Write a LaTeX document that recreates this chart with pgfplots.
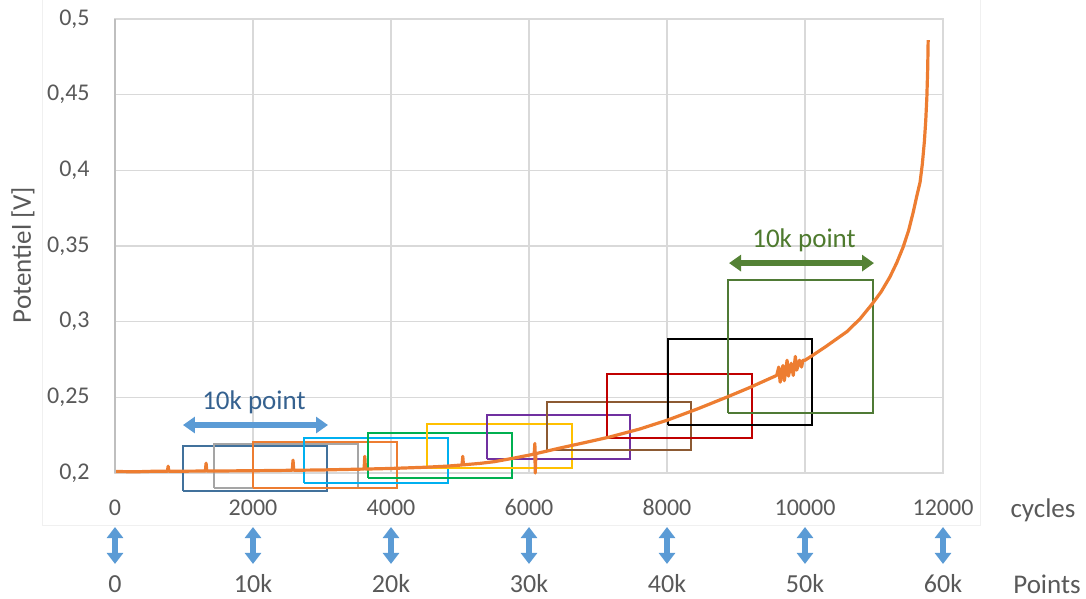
\documentclass[border=0pt]{standalone}
\usepackage{pgfplots}
\pgfplotsset{compat=1.18}
\usepackage{fontspec}
\setmainfont{Carlito}
\usetikzlibrary{arrows.meta}
\definecolor{gridc}{HTML}{D9D9D9}
\definecolor{axisc}{HTML}{BFBFBF}
\definecolor{txt}{HTML}{595959}
\definecolor{curve}{HTML}{ED7D31}
\definecolor{arrblue}{HTML}{5B9BD5}
\definecolor{lblblue}{HTML}{35618F}
\definecolor{arrgreen}{HTML}{548235}
\definecolor{lblgreen}{HTML}{4E7A2E}
\definecolor{rblue}{HTML}{41719C}
\definecolor{rgray}{HTML}{A5A5A5}
\definecolor{rorange}{HTML}{ED7D31}
\definecolor{rcyan}{HTML}{00B0F0}
\definecolor{rgreen}{HTML}{00B050}
\definecolor{ryellow}{HTML}{FFC000}
\definecolor{rpurple}{HTML}{7030A0}
\definecolor{rbrown}{HTML}{8C5A33}
\definecolor{rred}{HTML}{C00000}
\definecolor{rblack}{HTML}{000000}
\definecolor{rdgreen}{HTML}{4F7A35}
\definecolor{framec}{HTML}{F0F0F0}

\pgfplotstableread{
x y
0 0.2010
300 0.2008
600 0.2012
760 0.2011
770 0.2045
780 0.2011
1000 0.2012
1310 0.2013
1320 0.2065
1330 0.2013
1700 0.2014
2000 0.2015
2570 0.2018
2580 0.2085
2590 0.2018
3000 0.2020
3610 0.2026
3620 0.2110
3630 0.2026
4000 0.2030
4500 0.2038
4800 0.2045
5030 0.2053
5040 0.2110
5050 0.2054
5300 0.2064
5500 0.2075
5800 0.2100
6000 0.2118
6075 0.2125
6085 0.2195
6090 0.2000
6100 0.2128
6450 0.2165
6800 0.2200
7170 0.2238
7600 0.2290
8010 0.2350
8450 0.2425
8870 0.2502
9200 0.2565
9590 0.2645
9620 0.2700
9640 0.2600
9680 0.2710
9700 0.2610
9740 0.2745
9760 0.2640
9800 0.2725
9830 0.2645
9860 0.2770
9880 0.2680
9920 0.2745
9950 0.2700
9970 0.2745
10000 0.2745
10120 0.2780
10300 0.2835
10610 0.2935
10800 0.3020
10970 0.3115
11100 0.3195
11230 0.3295
11330 0.3390
11420 0.3490
11500 0.3600
11565 0.3717
11620 0.3830
11667 0.3920
11700 0.4040
11730 0.4190
11750 0.4330
11766 0.4484
11778 0.4670
11785 0.4860
}\curvedata

\tikzset{varr/.style={arrblue, line width=3pt, {Triangle[width=8pt,length=5.5pt]}-{Triangle[width=8pt,length=5.5pt]}},
  plab/.style={text=txt, font=\fontsize{13}{15}\selectfont, inner sep=0pt}}

\begin{document}
\begin{tikzpicture}
\useasboundingbox (0pt,0pt) rectangle (543pt,299.5pt);
\draw[framec, line width=0.5pt] (21pt,299.5pt) -- (21pt,36.5pt) -- (490pt,36.5pt) -- (490pt,299.5pt);
\begin{axis}[
  at={(57.5pt,63pt)}, anchor=south west,
  scale only axis, width=414pt, height=227pt,
  xmin=0, xmax=12000, ymin=0.2, ymax=0.5,
  clip=false,
  scaled x ticks=false,
  axis line style={draw=gridc, line width=0.75pt},
  grid=major,
  major grid style={draw=gridc, line width=0.75pt},
  major tick length=0pt,
  xtick={0,2000,4000,6000,8000,10000,12000},
  xticklabels={0,2000,4000,6000,8000,10000,12000},
  ytick={0.2,0.25,0.3,0.35,0.4,0.45,0.5},
  yticklabels={{0,2},{0,25},{0,3},{0,35},{0,4},{0,45},{0,5}},
  tick label style={text=txt, font=\fontsize{12}{14}\selectfont, inner sep=0pt},
  xticklabel style={anchor=center, yshift=-17.25pt},
  yticklabel style={anchor=east, xshift=-12.5pt},
  ylabel={Potentiel [V]},
  every axis y label/.style={at={(rel axis cs:0,0.5)}, xshift=-46pt, yshift=-4.5pt, rotate=90, anchor=center, text=txt, font=\fontsize{13.5}{16}\selectfont},
]
% rectangles
\addplot[forget plot, draw=rblue, line width=1pt] coordinates {(985,0.1881) (3072,0.1881) (3072,0.2178) (985,0.2178) (985,0.1881)};
\addplot[forget plot, draw=rgray, line width=1pt] coordinates {(1435,0.1901) (3521,0.1901) (3521,0.2192) (1435,0.2192) (1435,0.1901)};
\addplot[forget plot, draw=rorange, line width=1pt] coordinates {(2000,0.1901) (4086,0.1901) (4086,0.2205) (2000,0.2205) (2000,0.1901)};
\addplot[forget plot, draw=rcyan, line width=1pt] coordinates {(2739,0.1934) (4826,0.1934) (4826,0.2231) (2739,0.2231) (2739,0.1934)};
\addplot[forget plot, draw=rgreen, line width=1pt] coordinates {(3666,0.1967) (5753,0.1967) (5753,0.2264) (3666,0.2264) (3666,0.1967)};
\addplot[forget plot, draw=ryellow, line width=1pt] coordinates {(4521,0.2033) (6622,0.2033) (6622,0.2324) (4521,0.2324) (4521,0.2033)};
\addplot[forget plot, draw=rpurple, line width=1pt] coordinates {(5390,0.2092) (7462,0.2092) (7462,0.2383) (5390,0.2383) (5390,0.2092)};
\addplot[forget plot, draw=rbrown, line width=1pt] coordinates {(6260,0.2152) (8346,0.2152) (8346,0.2469) (6260,0.2469) (6260,0.2152)};
\addplot[forget plot, draw=rred, line width=1pt] coordinates {(7129,0.2231) (9230,0.2231) (9230,0.2654) (7129,0.2654) (7129,0.2231)};
\addplot[forget plot, draw=rblack, line width=1pt] coordinates {(8013,0.2317) (10099,0.2317) (10099,0.2885) (8013,0.2885) (8013,0.2317)};
\addplot[forget plot, draw=rdgreen, line width=1pt] coordinates {(8882,0.2396) (10983,0.2396) (10983,0.3275) (8882,0.3275) (8882,0.2396)};
% curve
\addplot[curve, line width=1.6pt, line join=round, no markers] table[x=x,y=y] {\curvedata};
% horizontal arrows and labels
\draw[arrblue, line width=3pt, {Triangle[width=8pt,length=6pt]}-{Triangle[width=8pt,length=6pt]}] (axis cs:985,0.2317) -- (axis cs:3087,0.2317);
\node[text=lblblue, font=\fontsize{13.5}{16}\selectfont, inner sep=0pt] at (axis cs:2014,0.2469) {10k point};
\draw[arrgreen, line width=3pt, {Triangle[width=8pt,length=6pt]}-{Triangle[width=8pt,length=6pt]}] (axis cs:8899,0.3387) -- (axis cs:11000,0.3387);
\node[text=lblgreen, font=\fontsize{13.5}{16}\selectfont, inner sep=0pt] at (axis cs:9986,0.3539) {10k point};
% bottom row
\draw[varr] (axis cs:0,0.1643) -- (axis cs:0,0.1399);
\draw[varr] (axis cs:2000,0.1643) -- (axis cs:2000,0.1399);
\draw[varr] (axis cs:4000,0.1643) -- (axis cs:4000,0.1399);
\draw[varr] (axis cs:6000,0.1643) -- (axis cs:6000,0.1399);
\draw[varr] (axis cs:8000,0.1643) -- (axis cs:8000,0.1399);
\draw[varr] (axis cs:10000,0.1643) -- (axis cs:10000,0.1399);
\draw[varr] (axis cs:12000,0.1643) -- (axis cs:12000,0.1399);
\node[plab] at (axis cs:0,0.1267) {0};
\node[plab] at (axis cs:2000,0.1267) {10k};
\node[plab] at (axis cs:4000,0.1267) {20k};
\node[plab] at (axis cs:6000,0.1267) {30k};
\node[plab] at (axis cs:8000,0.1267) {40k};
\node[plab] at (axis cs:10000,0.1267) {50k};
\node[plab] at (axis cs:12000,0.1267) {60k};
\node[text=txt, font=\fontsize{13.5}{16}\selectfont, inner sep=0pt] at (axis cs:13449,0.1756) {cycles};
\node[text=txt, font=\fontsize{13.5}{16}\selectfont, inner sep=0pt] at (axis cs:13507,0.1267) {Points};
\draw[axisc, line width=0.75pt] (axis cs:0,0.2) -- (axis cs:0,0.5);
\end{axis}
\end{tikzpicture}
\end{document}
